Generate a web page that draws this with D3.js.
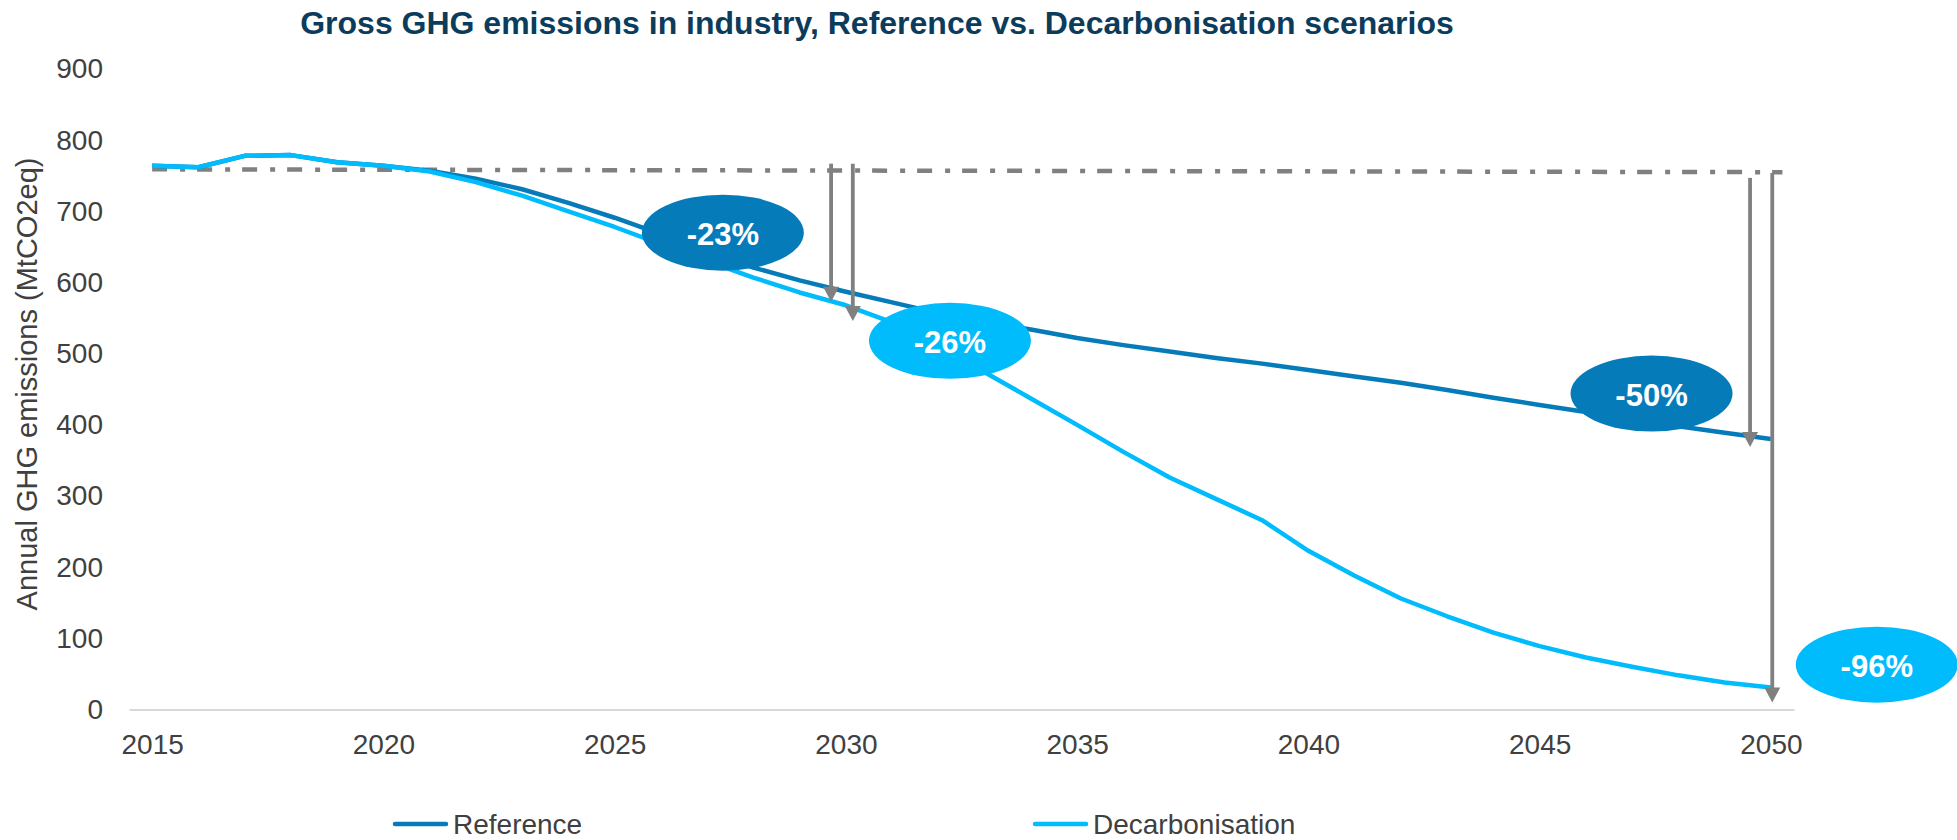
<!DOCTYPE html>
<html>
<head>
<meta charset="utf-8">
<script src="https://cdn.jsdelivr.net/npm/d3@7"></script>
<style>
  html, body { margin: 0; padding: 0; background: #ffffff; }
  svg { display: block; font-family: "Liberation Sans", Arial, Helvetica, sans-serif; }
</style>
</head>
<body>
<svg id="chart" width="1957" height="840"></svg>
<script>
// ---------- DATA ----------
const years = d3.range(2015, 2051);
const referenceValues = [764, 762, 778, 779, 769, 764, 757, 746, 731, 712, 691, 668, 645, 621, 603, 587, 572, 557, 545, 534, 522, 512, 503, 494, 486, 477, 468, 459, 449, 438, 428, 418, 408, 398, 389, 380];
const decarbValues    = [764, 762, 778, 779, 769, 764, 756, 741, 722, 700, 678, 654, 630, 607, 586, 568, 544, 510, 474, 437, 400, 362, 326, 296, 266, 223, 188, 156, 131, 108, 89, 73, 60, 48, 38, 31];
const seriesNames = ["Reference", "Decarbonisation"];
const yTicks = [0, 100, 200, 300, 400, 500, 600, 700, 800, 900];
const xTicks = [2015, 2020, 2025, 2030, 2035, 2040, 2045, 2050];
// 2015 baseline (dash-dot) : [year, value]
const baselinePts = [[2015, 759], [2050.25, 755]];
// arrows: year, start value, tip value
const arrowYears  = [2029.68, 2030.15, 2049.55, 2050.03];
const arrowStarts = [767, 767, 747, 754];
const arrowTips   = [573, 546, 369, 10];
// reduction labels: text, year, value, series index
const labelTexts  = ["-23%", "-26%", "-50%", "-96%"];
const labelYears  = [2027.34, 2032.25, 2047.42, 2052.29];
const labelValues = [670, 518, 444, 63];
const labelSeries = [0, 1, 0, 1];

// ---------- STYLE ----------
const colors = ["#057CB9", "#00BCFC"];
const gray = "#808080";
const textColor = "#404040";

const svg = d3.select("#chart");
const plotLeft = 129, plotRight = 1794, plotTop = 69, plotBottom = 709.5;

const x = d3.scalePoint().domain(years).range([plotLeft, plotRight]).padding(0.5);
const xl = d3.scaleLinear().domain([2015, 2050]).range([x(2015), x(2050)]);
const y = d3.scaleLinear().domain([0, 900]).range([plotBottom, plotTop]);

// title
svg.append("text")
  .attr("x", 877).attr("y", 34)
  .attr("text-anchor", "middle")
  .attr("font-size", 32).attr("font-weight", "bold")
  .attr("fill", "#0C3C5C")
  .text("Gross GHG emissions in industry, Reference vs. Decarbonisation scenarios");

// y axis
const yAxis = svg.append("g").attr("transform", `translate(${plotLeft},0)`)
  .call(d3.axisLeft(y).tickValues(yTicks).tickSize(0).tickPadding(26));
yAxis.select(".domain").remove();
yAxis.selectAll("text").attr("font-size", 28).attr("fill", textColor).attr("font-family", "Liberation Sans, Arial, sans-serif");

// x axis
const xAxis = svg.append("g").attr("transform", `translate(0,${plotBottom})`)
  .call(d3.axisBottom(x).tickValues(xTicks).tickSize(0).tickSizeOuter(0).tickPadding(25));
xAxis.select(".domain").attr("stroke", "#D9D9D9").attr("stroke-width", 2);
xAxis.selectAll("text").attr("font-size", 28).attr("fill", textColor).attr("font-family", "Liberation Sans, Arial, sans-serif");

// y title
svg.append("text")
  .attr("transform", "translate(27,384) rotate(-90)")
  .attr("text-anchor", "middle")
  .attr("dominant-baseline", "central")
  .attr("font-size", 29).attr("fill", textColor)
  .text("Annual GHG emissions (MtCO2eq)");

// baseline dash-dot
svg.append("path")
  .attr("d", d3.line().x(d => xl(d[0])).y(d => y(d[1]))(baselinePts))
  .attr("fill", "none").attr("stroke", gray).attr("stroke-width", 4.5)
  .attr("stroke-dasharray", "15,13,5,12");

// series lines
const series = [referenceValues, decarbValues];
const lineGen = d3.line().x((d, i) => x(years[i])).y(d => y(d));
[0, 1].forEach(s => {
  svg.append("path")
    .attr("d", lineGen(series[s]))
    .attr("fill", "none").attr("stroke", colors[s]).attr("stroke-width", 4.5)
    .attr("stroke-linejoin", "round");
});

// arrows
arrowYears.forEach((yr, i) => {
  const ax = xl(yr), y0 = y(arrowStarts[i]), y1 = y(arrowTips[i]);
  const headLen = 15, headHalf = 8;
  svg.append("line")
    .attr("x1", ax).attr("x2", ax).attr("y1", y0).attr("y2", y1 - headLen + 1)
    .attr("stroke", gray).attr("stroke-width", 3.8);
  svg.append("path")
    .attr("d", `M${ax - headHalf},${y1 - headLen}L${ax + headHalf},${y1 - headLen}L${ax},${y1}Z`)
    .attr("fill", gray);
});

// ellipse labels
labelTexts.forEach((t, i) => {
  const cx = xl(labelYears[i]), cy = y(labelValues[i]);
  svg.append("ellipse")
    .attr("cx", cx).attr("cy", cy).attr("rx", 81).attr("ry", 38)
    .attr("fill", colors[labelSeries[i]]);
  svg.append("text")
    .attr("x", cx).attr("y", cy + 2)
    .attr("text-anchor", "middle").attr("dominant-baseline", "central")
    .attr("font-size", 31).attr("font-weight", "bold").attr("fill", "#ffffff")
    .text(t);
});

// legend
const legendX = [393, 1033];
seriesNames.forEach((name, i) => {
  const g = svg.append("g").attr("transform", `translate(${legendX[i]},824)`);
  g.append("line").attr("x1", 2).attr("x2", 53).attr("y1", 0).attr("y2", 0)
    .attr("stroke", colors[i]).attr("stroke-width", 4.5).attr("stroke-linecap", "round");
  g.append("text").attr("x", 60).attr("y", 0)
    .attr("dominant-baseline", "central")
    .attr("font-size", 28).attr("fill", textColor).text(name);
});
</script>
</body>
</html>
